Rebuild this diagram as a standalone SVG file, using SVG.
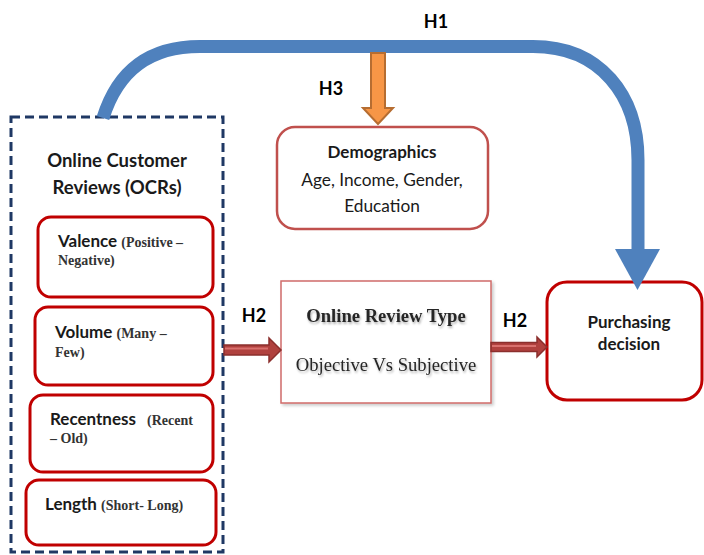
<svg xmlns="http://www.w3.org/2000/svg" width="704" height="555" viewBox="0 0 704 555">
<defs>
<style>
.sans{font-family:Lato,"Liberation Sans",sans-serif;fill:#1a1a1a}
.b{font-weight:bold}
.serif{font-family:"Liberation Serif",serif;fill:#333;font-weight:bold}
.hl{font-family:Lato,"Liberation Sans",sans-serif;font-weight:bold;font-size:18px;fill:#000}
.item{fill:#fff;stroke:#C00000;stroke-width:3}
</style>
<filter id="tsh" x="-10%" y="-30%" width="120%" height="160%">
<feDropShadow dx="1" dy="2" stdDeviation="1.2" flood-color="#000" flood-opacity="0.3"/>
</filter>
<filter id="bsh" x="-5%" y="-5%" width="115%" height="115%">
<feDropShadow dx="2" dy="2" stdDeviation="1.5" flood-color="#000" flood-opacity="0.2"/>
</filter>
</defs>
<rect width="704" height="555" fill="#fff"/>

<g id="ocrs">
<rect x="11" y="117" width="212" height="435" fill="none" stroke="#1F3864" stroke-width="3" stroke-dasharray="9 5"/>
<text class="sans b" x="117" y="167" font-size="18.5" text-anchor="middle">Online Customer</text>
<text class="sans b" x="117" y="194" font-size="18.5" text-anchor="middle">Reviews (OCRs)</text>
</g>

<g id="valence">
<rect class="item" x="38" y="217" width="175" height="80" rx="13"/>
<text x="58" y="247"><tspan class="sans b" font-size="17">Valence </tspan><tspan class="serif" font-size="14">(Positive –</tspan></text>
<text class="serif" x="58" y="265" font-size="14">Negative)</text>
</g>

<g id="volume">
<rect class="item" x="35" y="307" width="178" height="78" rx="13"/>
<text x="55" y="338"><tspan class="sans b" font-size="17">Volume </tspan><tspan class="serif" font-size="14">(Many –</tspan></text>
<text class="serif" x="55" y="357" font-size="14">Few)</text>
</g>

<g id="recentness">
<rect class="item" x="30" y="395" width="183" height="77" rx="13"/>
<text x="50" y="425"><tspan class="sans b" font-size="17">Recentness</tspan><tspan class="serif" font-size="14" x="147">(Recent</tspan></text>
<text class="serif" x="50" y="443" font-size="14">– Old)</text>
</g>

<g id="length">
<rect class="item" x="26" y="480" width="190" height="65" rx="13"/>
<text x="45" y="510"><tspan class="sans b" font-size="17">Length </tspan><tspan class="serif" font-size="14">(Short- Long)</tspan></text>
</g>

<g id="demographics">
<rect x="277" y="127" width="211" height="102" rx="18" fill="#fff" stroke="#C0504D" stroke-width="2.5"/>
<text class="sans b" x="382" y="158" font-size="17" text-anchor="middle">Demographics</text>
<text class="sans" x="382" y="186" font-size="17.3" text-anchor="middle">Age, Income, Gender,</text>
<text class="sans" x="382" y="212" font-size="17.3" text-anchor="middle">Education</text>
</g>

<g id="review-type">
<rect x="281" y="281" width="210" height="122" fill="#fff" stroke="#D06B69" stroke-width="1.5" filter="url(#bsh)"/>
<text x="386" y="322" font-family="'Liberation Serif',serif" font-weight="bold" font-size="18.6" fill="#262626" text-anchor="middle" filter="url(#tsh)">Online Review Type</text>
<text x="386" y="371" font-family="'Liberation Serif',serif" font-size="18.6" fill="#262626" text-anchor="middle" filter="url(#tsh)">Objective Vs Subjective</text>
</g>

<g id="purchasing">
<rect class="item" x="547" y="282" width="155" height="118" rx="20"/>
<text class="sans b" x="629" y="328" font-size="17" text-anchor="middle">Purchasing</text>
<text class="sans b" x="629" y="350" font-size="17" text-anchor="middle">decision</text>
</g>

<g id="connectors">
<path d="M103 118 C118 70 150 46.5 200 46.5 L533 46.5 C600 46.5 638 95 638 160 L638 250" fill="none" stroke="#4F81BD" stroke-width="13"/>
<polygon points="615,249 660,249 637.5,290" fill="#4F81BD"/>
<polygon points="371,53 385,53 385,108 393,108 378,124 363,108 371,108" fill="#F79646" stroke="#B66D31" stroke-width="2" stroke-linejoin="miter"/>
<polygon points="224,345 269,345 269,338 281,350 269,362 269,355 224,355" fill="#B0413E" stroke="#8B2F2D" stroke-width="1.5"/>
<line x1="225" y1="348.5" x2="268" y2="348.5" stroke="#D9706D" stroke-width="2"/>
<polygon points="491,342.5 537,342.5 537,337 547,347 537,357 537,351.5 491,351.5" fill="#B0413E" stroke="#8B2F2D" stroke-width="1.5"/>
<line x1="492" y1="346" x2="536" y2="346" stroke="#D9706D" stroke-width="2"/>
<text class="hl" x="436" y="28" text-anchor="middle">H1</text>
<text class="hl" x="331" y="95" text-anchor="middle">H3</text>
<text class="hl" x="254" y="322" text-anchor="middle">H2</text>
<text class="hl" x="515" y="327" text-anchor="middle">H2</text>
</g>
</svg>
